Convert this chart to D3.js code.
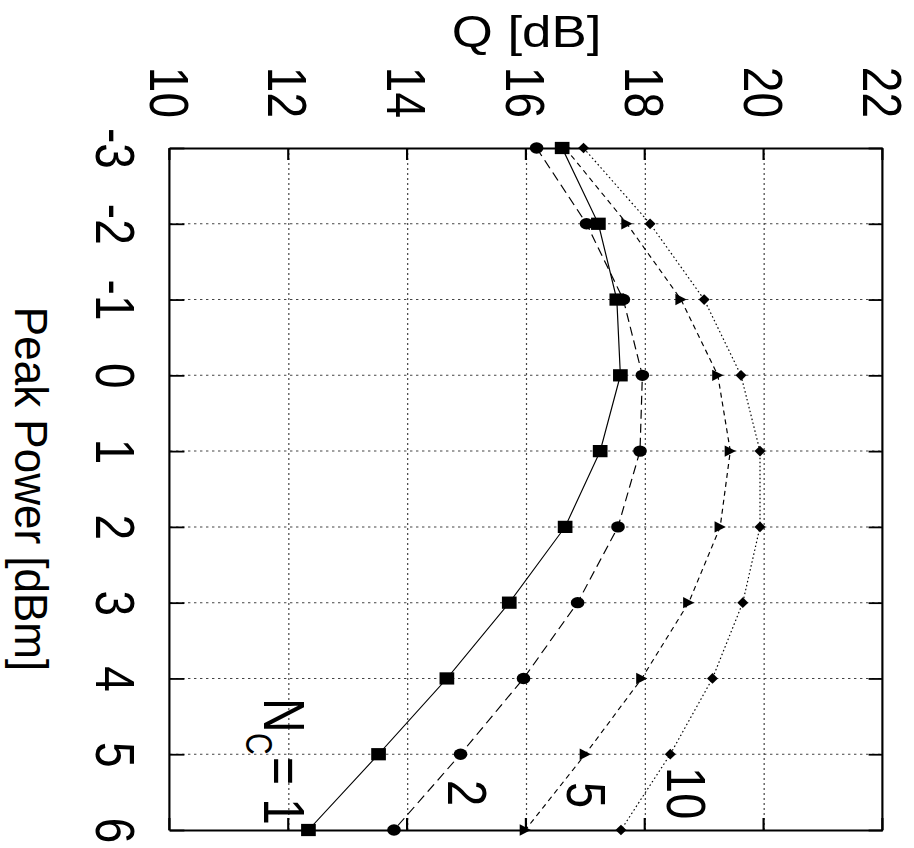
<!DOCTYPE html>
<html>
<head>
<meta charset="utf-8">
<script src="https://cdn.jsdelivr.net/npm/d3@7"></script>
<style>
  body { margin: 0; background: #fff; }
  text { font-family: "Liberation Sans", Arial, Helvetica, sans-serif; fill: #000; }
</style>
</head>
<body>
<script>
// data
var power = [-3, -2, -1, 0, 1, 2, 3, 4, 5, 6];
var qTicks = [10, 12, 14, 16, 18, 20, 22];
var qNc1  = [16.60, 17.21, 17.52, 17.58, 17.24, 16.65, 15.71, 14.66, 13.51, 12.33];
var qNc2  = [16.17, 17.01, 17.63, 17.95, 17.91, 17.54, 16.86, 15.95, 14.89, 13.77];
var qNc5  = [16.65, 17.69, 18.60, 19.22, 19.43, 19.26, 18.73, 17.94, 16.99, 15.98];
var qNc10 = [16.96, 18.08, 18.99, 19.61, 19.93, 19.93, 19.64, 19.13, 18.42, 17.59];
var ncLabels = ["1", "2", "5", "10"];

var W = 914, H = 848;
var k = 1.2;   // the figure is stretched along its own vertical

var svg = d3.select("body").append("svg")
    .attr("width", W)
    .attr("height", H);

// whole chart drawn upright, then turned a quarter clockwise
var g = svg.append("g")
    .attr("transform", "translate(" + W + ",0) rotate(90) scale(1," + k + ")");

var xScale = d3.scaleLinear().domain([-3, 6]).range([148, 830]);
var yScale = d3.scaleLinear().domain([10, 22]).range([744 / k, 31 / k]);

// grid
g.append("g").selectAll("line")
    .data(power.slice(1, -1))
    .enter().append("line")
    .attr("x1", function(d){ return xScale(d); })
    .attr("x2", function(d){ return xScale(d); })
    .attr("y1", yScale(10))
    .attr("y2", yScale(22))
    .attr("stroke", "#444")
    .attr("stroke-width", 1)
    .attr("stroke-dasharray", "2,3");

g.append("g").selectAll("line")
    .data(qTicks.slice(1, -1))
    .enter().append("line")
    .attr("x1", xScale(-3))
    .attr("x2", xScale(6))
    .attr("y1", function(d){ return yScale(d); })
    .attr("y2", function(d){ return yScale(d); })
    .attr("stroke", "#444")
    .attr("stroke-width", 1)
    .attr("stroke-dasharray", "2,3");

// axes, ticks inward, plain hyphen for negatives
var plain = function(d){ return String(d); };
var xAxis = d3.axisBottom(xScale).tickValues(power).tickSize(-12).tickSizeOuter(0).tickFormat(plain);
var xAxisTop = d3.axisTop(xScale).tickValues(power).tickSize(-12).tickSizeOuter(0).tickFormat("");
var yAxis = d3.axisLeft(yScale).tickValues(qTicks).tickSize(-12).tickSizeOuter(0).tickFormat(plain);
var yAxisRight = d3.axisRight(yScale).tickValues(qTicks).tickSize(-12).tickSizeOuter(0).tickFormat("");

var gx = g.append("g").attr("class", "x axis")
    .attr("transform", "translate(0," + yScale(10) + ")")
    .call(xAxis);
g.append("g").attr("class", "x axis")
    .attr("transform", "translate(0," + yScale(22) + ")")
    .call(xAxisTop);
var gy = g.append("g").attr("class", "y axis")
    .attr("transform", "translate(" + xScale(-3) + ",0)")
    .call(yAxis);
g.append("g").attr("class", "y axis")
    .attr("transform", "translate(" + xScale(6) + ",0)")
    .call(yAxisRight);

g.selectAll(".axis path, .axis line")
    .attr("stroke", "#000")
    .attr("stroke-width", 1.8);

gx.selectAll("text")
    .attr("y", 62)
    .attr("dy", 0)
    .style("font-size", "46px");
gy.selectAll("text")
    .attr("x", -30)
    .attr("dy", "0.36em")
    .style("font-size", "46px");

// axis titles
g.append("text")
    .attr("transform", "translate(47," + yScale(16) + ") rotate(-90)")
    .style("text-anchor", "middle")
    .style("font-size", "44px")
    .text("Q [dB]");

g.append("text")
    .attr("transform", "translate(489,749) scale(1,0.88)")
    .style("text-anchor", "middle")
    .style("font-size", "44px")
    .text("Peak Power [dBm]");

// markers
var diamond = {
    draw: function(ctx, size){
        var r = Math.sqrt(size) / 2;
        ctx.moveTo(0, -r * 0.85);
        ctx.lineTo(r, 0);
        ctx.lineTo(0, r * 0.85);
        ctx.lineTo(-r, 0);
        ctx.closePath();
    }
};
var triangle = {
    draw: function(ctx, size){
        var r = Math.sqrt(size) / 2;
        ctx.moveTo(0, -r * 0.82);
        ctx.lineTo(r, r * 0.82);
        ctx.lineTo(-r, r * 0.82);
        ctx.closePath();
    }
};

var series = [
    {vals: qNc1,  dash: null,      sym: d3.symbolSquare, size: 150},
    {vals: qNc2,  dash: "9,5",     sym: d3.symbolCircle, size: 102},
    {vals: qNc5,  dash: "5,4",     sym: triangle,        size: 130},
    {vals: qNc10, dash: "1.5,2.5", sym: diamond,         size: 115}
];

var line = d3.line()
    .x(function(d){ return xScale(d.p); })
    .y(function(d){ return yScale(d.q); });

series.forEach(function(s){
    var pts = power.map(function(p, i){ return {p: p, q: s.vals[i]}; });

    g.append("path")
        .datum(pts)
        .attr("d", line)
        .attr("fill", "none")
        .attr("stroke", "#000")
        .attr("stroke-width", 1)
        .attr("stroke-dasharray", s.dash);

    g.append("g").selectAll("path")
        .data(pts)
        .enter().append("path")
        .attr("transform", function(d){ return "translate(" + xScale(d.p) + "," + yScale(d.q) + ")"; })
        .attr("d", d3.symbol().type(s.sym).size(s.size))
        .attr("fill", "#000");
});

// curve labels
var lab = g.append("text")
    .attr("x", 698)
    .attr("y", 541.7)
    .style("font-size", "48px");
lab.append("tspan").text("N");
lab.append("tspan").attr("x", 733).attr("y", 557).style("font-size", "30px").text("C");
lab.append("tspan").attr("x", 757).attr("y", 541.7).text("= " + ncLabels[0]);

var labPos = [[780, 388], [782, 289], [767, 206]];
labPos.forEach(function(p, i){
    g.append("text")
        .attr("x", p[0])
        .attr("y", p[1])
        .style("font-size", "47px")
        .text(ncLabels[i + 1]);
});
</script>
</body>
</html>
